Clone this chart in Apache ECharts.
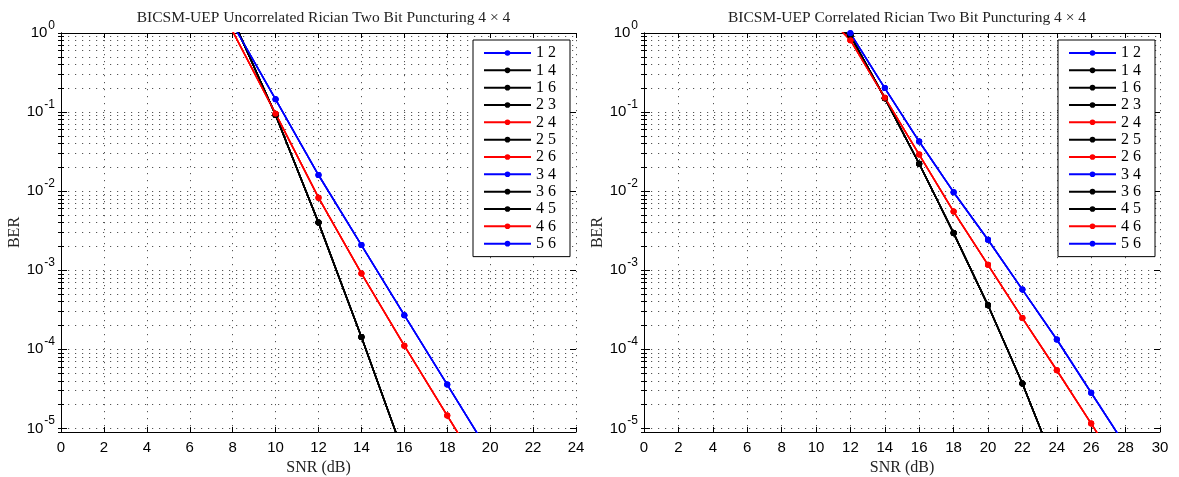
<!DOCTYPE html>
<html><head><meta charset="utf-8">
<script src="https://cdn.jsdelivr.net/npm/echarts@6/dist/echarts.min.js"></script>
<style>html,body{margin:0;padding:0;background:#fff}#c{width:1179px;height:477px}</style>
</head><body><div id="c"></div>
<script>
// ---- data ----
const titleL = 'BICSM-UEP Uncorrelated Rician Two Bit Puncturing 4 \u00d7 4';
const titleR = 'BICSM-UEP Correlated Rician Two Bit Puncturing 4 \u00d7 4';
const pairNames = ['1 2','1 4','1 6','2 3','2 4','2 5','2 6','3 4','3 6','4 5','4 6','5 6'];
const pairGroup = ['blue','black','black','black','red','black','red','blue','black','black','red','blue'];

const snrL   = [8, 10, 12, 14, 16, 18, 20];
const blueL  = [1.3, 0.145, 0.0160, 2.08e-3, 2.70e-4, 3.58e-5, 4.7e-6];
const redL   = [1.05, 0.0955, 8.28e-3, 9.1e-4, 1.11e-4, 1.45e-5, 1.9e-6];
const blackL = [1.5, 0.092, 4.0e-3, 1.43e-4, 4.5e-6];

const snrR   = [10, 12, 14, 16, 18, 20, 22, 24, 26, 28];
const blueR  = [4.5, 0.99, 0.201, 0.0424, 9.7e-3, 2.43e-3, 5.69e-4, 1.33e-4, 2.82e-5, 6e-6];
const redR   = [2.3, 0.81, 0.152, 0.029, 5.52e-3, 1.17e-3, 2.48e-4, 5.43e-5, 1.15e-5, 2.4e-6];
const blackR = [1.65, 0.93, 0.15, 0.0222, 2.95e-3, 3.6e-4, 3.7e-5, 3e-6];

const xMaxL = 24, xMaxR = 30, xStep = 2;
const yMin = 9e-6, yMax = 1;
const majorY = [1, 1e-1, 1e-2, 1e-3, 1e-4, 1e-5];

// ---- build ----
const colors = {blue: '#0000ff', red: '#ff0000', black: '#000000'};
const minorY = [];
for (let e = 0; e >= -5; e--) for (let m = 1; m <= 9; m++) { const v = m * Math.pow(10, e - 1); if (v >= yMin && v <= yMax) minorY.push(+v.toPrecision(3)); }
const allY = majorY.concat(minorY.filter(v => majorY.indexOf(v) < 0));

const serif = '"Liberation Serif", "DejaVu Serif", serif';
const sans = '"Liberation Sans", Arial, sans-serif';
const gridDot = {color: '#555', width: 1, type: [1.2, 5.8]};

function yfmt(v) {
  const e = Math.round(Math.log10(v));
  return '{b|10}{s|' + (e === 0 ? '0' : '-' + (-e)) + '}';
}

const grids = [
  {left: 61, top: 33, width: 515, height: 399, outerBoundsMode: 'none', containLabel: false},
  {left: 644, top: 33, width: 516, height: 399, outerBoundsMode: 'none', containLabel: false}
];
const xAxis = [], yAxis = [], series = [];
function addAxes(gi, xMax) {
  xAxis.push({gridIndex: gi, type: 'value', min: 0, max: xMax, interval: xStep, position: 'bottom',
    name: 'SNR (dB)', nameLocation: 'middle', nameGap: 26, nameTextStyle: {fontFamily: serif, fontSize: 16, color: '#222'},
    axisLine: {lineStyle: {color: '#000', width: 1}}, axisTick: {inside: true, length: 5, lineStyle: {color: '#000'}},
    axisLabel: {fontFamily: sans, fontSize: 15, color: '#000', margin: 8},
    splitLine: {show: true, lineStyle: gridDot}});
  xAxis.push({gridIndex: gi, type: 'value', min: 0, max: xMax, interval: xStep, position: 'top',
    axisLine: {lineStyle: {color: '#000', width: 1}}, axisTick: {inside: true, length: 5, lineStyle: {color: '#000'}},
    axisLabel: {show: false}, splitLine: {show: false}});
  yAxis.push({gridIndex: gi, type: 'log', logBase: 10, min: yMin, max: yMax, position: 'left',
    name: 'BER', nameLocation: 'middle', nameGap: 36, nameTextStyle: {fontFamily: serif, fontSize: 16, color: '#222'},
    axisLine: {lineStyle: {color: '#000', width: 1}},
    axisTick: {inside: true, length: 3, customValues: allY, lineStyle: {color: '#000'}},
    axisLabel: {customValues: majorY, formatter: yfmt, margin: 6, rich: {
      b: {fontFamily: sans, fontSize: 15, color: '#000', verticalAlign: 'middle'},
      s: {fontFamily: sans, fontSize: 12, color: '#000', verticalAlign: 'middle', padding: [0, 0, 15, 1]}}},
    splitLine: {show: true, lineStyle: gridDot}, minorSplitLine: {show: false}});
  yAxis.push({gridIndex: gi, type: 'log', logBase: 10, min: yMin, max: yMax, position: 'right',
    axisLine: {lineStyle: {color: '#000', width: 1}},
    axisTick: {inside: true, length: 3, customValues: allY, lineStyle: {color: '#000'}},
    axisLabel: {show: false}, splitLine: {show: false}});
  yAxis.push({gridIndex: gi, type: 'log', logBase: 10, min: yMin, max: yMax, position: 'left',
    axisLine: {show: false}, axisTick: {inside: true, length: 6, customValues: majorY, lineStyle: {color: '#000'}},
    axisLabel: {show: false}, splitLine: {show: false}});
  yAxis.push({gridIndex: gi, type: 'log', logBase: 10, min: yMin, max: yMax, position: 'right',
    axisLine: {show: false}, axisTick: {inside: true, length: 6, customValues: majorY, lineStyle: {color: '#000'}},
    axisLabel: {show: false}, splitLine: {show: false}});
}
addAxes(0, xMaxL);
addAxes(1, xMaxR);

function addSeries(gi, snr, groups) {
  pairNames.forEach((nm, i) => {
    const g = pairGroup[i];
    const vals = groups[g];
    series.push({name: nm, type: 'line', xAxisIndex: gi * 2, yAxisIndex: gi * 4,
      data: vals.map((v, k) => [snr[k], v]), symbol: 'circle', symbolSize: 6, clip: true,
      lineStyle: {color: colors[g], width: 1.5}, itemStyle: {color: colors[g]},
      emphasis: {disabled: true}, animation: false});
  });
}
addSeries(0, snrL, {blue: blueL, red: redL, black: blackL});
addSeries(1, snrR, {blue: blueR, red: redR, black: blackR});

const legendBase = {orient: 'vertical', data: pairNames, itemWidth: 47, itemHeight: 7, itemGap: 1.33,
  backgroundColor: '#fff', borderColor: '#000', borderWidth: 1, borderRadius: 0,
  padding: [5, 14, 5, 10], selectedMode: false,
  textStyle: {fontFamily: serif, fontSize: 16, color: '#000'}};

const chart = echarts.init(document.getElementById('c'), null, {renderer: 'canvas'});
chart.setOption({
  animation: false,
  backgroundColor: '#fff',
  title: [
    {text: titleL, left: 318.5, top: 5, textAlign: 'center', textStyle: {fontFamily: serif, fontSize: 15.5, fontWeight: 'normal', color: '#222'}},
    {text: titleR, left: 902, top: 5, textAlign: 'center', textStyle: {fontFamily: serif, fontSize: 15.5, fontWeight: 'normal', color: '#222'}}
  ],
  grid: grids,
  xAxis: xAxis,
  yAxis: yAxis,
  legend: [
    Object.assign({}, legendBase, {left: 473, top: 40}),
    Object.assign({}, legendBase, {left: 1058, top: 40})
  ],
  series: series
});
</script></body></html>
